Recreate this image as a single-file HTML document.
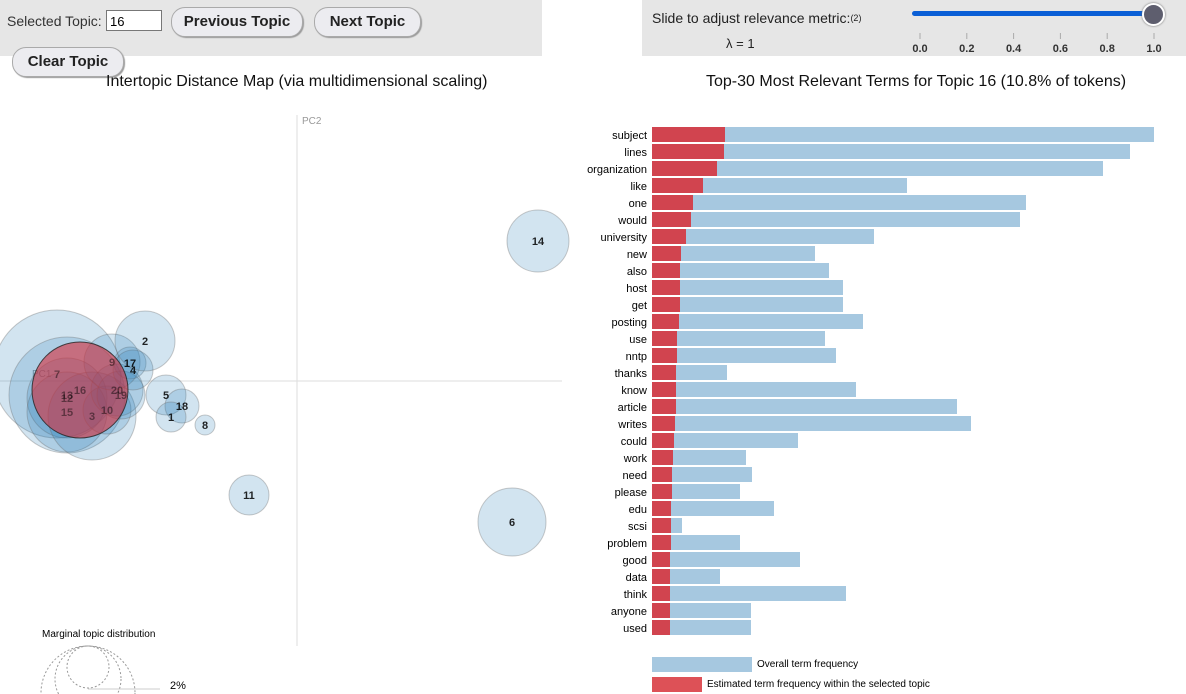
<!DOCTYPE html>
<html><head><meta charset="utf-8">
<style>
html,body{margin:0;width:1186px;height:694px;overflow:hidden}
body{background:#fff;font-family:"Liberation Sans",Arial,sans-serif;position:relative}
svg{overflow:hidden}
.panel{position:absolute;background:#e6e6e6}
.btn{position:absolute;background:#ececf0;border:1px solid #aaa;border-radius:14px;box-shadow:1px 1px 1px #999;font-weight:bold;font-size:15px;text-align:center;line-height:28px;height:28px;color:#222}
.t{position:absolute;white-space:nowrap}
</style></head><body>
<div class="panel" style="left:0;top:0;width:542px;height:56px"></div>
<div class="t" style="left:7px;top:13px;font-size:14px;color:#333">Selected Topic:</div>
<div style="position:absolute;left:106px;top:10px;width:56px;height:21px;background:#fff;border:1px solid #777;font-size:13px;line-height:21px;padding-left:3px;box-sizing:border-box">16</div>
<div class="btn" style="left:171px;top:7px;width:130px">Previous Topic</div>
<div class="btn" style="left:314px;top:7px;width:105px">Next Topic</div>
<div class="btn" style="left:12px;top:47px;width:110px">Clear Topic</div>
<div class="t" style="left:106px;top:73px;font-size:16px;color:#111">Intertopic Distance Map (via multidimensional scaling)</div>

<div class="panel" style="left:642px;top:0;width:544px;height:56px"></div>
<div class="t" style="left:652px;top:10px;font-size:14px;line-height:16px;color:#222">Slide to adjust relevance metric:<span style="font-size:9px;vertical-align:top">(2)</span></div>
<div class="t" style="left:726px;top:36px;font-size:13px;color:#222">λ = 1</div>
<div style="position:absolute;left:912px;top:11px;width:242px;height:5px;background:#0a5fd6;border-radius:3px"></div>
<div style="position:absolute;left:1142px;top:3px;width:19px;height:19px;border-radius:50%;background:#5e5e6e;border:2px solid #fff;box-shadow:0 0 2px #666"></div>
<svg style="position:absolute;left:0;top:0" width="1186" height="694" id="sax"></svg>
<div class="t" style="left:706px;top:73px;font-size:16px;color:#111">Top-30 Most Relevant Terms for Topic 16 (10.8% of tokens)</div>

<svg id="map" style="position:absolute;left:0;top:0" width="580" height="694"></svg>
<svg id="bars" style="position:absolute;left:0;top:0" width="1186" height="694"></svg>

<script>
const NS="http://www.w3.org/2000/svg";
function mk(p,tag,a,txt){const e=document.createElementNS(NS,tag);for(const k in a)e.setAttribute(k,a[k]);if(txt!==undefined)e.textContent=txt;p.appendChild(e);return e;}

const sliderTicks=["0.0","0.2","0.4","0.6","0.8","1.0"];
const sax=document.getElementById('sax');
sliderTicks.forEach((s,i)=>{const x=920+i*46.8;
 const l=mk(sax,'line',{x1:x,x2:x,y1:33,y2:39,stroke:'#aaa','stroke-width':1});
 
 
 const t=mk(sax,'text',{x:x,y:52,'text-anchor':'middle','font-size':11,'font-weight':'bold',fill:'#333'},s);
 
 
});

const topicIds=[7,13,12,15,3,10,20,19,9,17,4,2,5,18,1,8,11,14,6,16];
const topicPC1=[-0.24,-0.23,-0.23,-0.23,-0.205,-0.19,-0.18,-0.176,-0.185,-0.167,-0.164,-0.152,-0.131,-0.115,-0.126,-0.092,-0.048,0.241,0.215,-0.217];
const topicPC2=[0.007,-0.014,-0.017,-0.031,-0.035,-0.029,-0.009,-0.014,0.019,0.018,0.011,0.04,-0.014,-0.025,-0.036,-0.044,-0.114,0.14,-0.141,-0.009];
const topicSize=[64,58,40,40,44,24,26,24,28,16,20,30,20,17,15,10,20,31,34,48];
const mapX=v=>297+v*1000, mapY=v=>381-v*1000;
const map=document.getElementById('map');
let ax=mk(map,'line',{x1:297,x2:297,y1:115,y2:646,stroke:'#ddd'});
ax=mk(map,'line',{x1:0,x2:562,y1:381,y2:381,stroke:'#ddd'});
let at=mk(map,'text',{x:302,y:124,'font-size':10,fill:'#999'},'PC2');
at=mk(map,'text',{x:32,y:377,'font-size':10,fill:'#999'},'PC1');
const sel=16;
topicIds.forEach((id,i)=>{
 const s=id===sel;
 const c=mk(map,'circle',{cx:mapX(topicPC1[i]),cy:mapY(topicPC2[i]),r:topicSize[i],fill:s?'#d62f3c':'#1f77b4','fill-opacity':s?0.6:0.2,stroke:s?'#222':'#666','stroke-opacity':s?0.8:0.35,'stroke-width':1});
 
 
});
topicIds.forEach((id,i)=>{
 const t=mk(map,'text',{x:mapX(topicPC1[i]),y:mapY(topicPC2[i])+4,'text-anchor':'middle','font-size':11,'font-weight':'bold',fill:'#000','fill-opacity':(topicPC1[i]<-0.17&&id!==2)?0.45:0.85},id);
 
 
});
let lt=mk(map,'text',{x:42,y:637,'font-size':10,fill:'#000'},'Marginal topic distribution');
[[667,21],[679,33],[693,47]].forEach(([cy,r])=>{const c=mk(map,'circle',{cx:88,cy:cy,r:r,fill:'none',stroke:'#999','stroke-dasharray':'2,2'});});
let ll=mk(map,'line',{x1:88,x2:160,y1:689,y2:689,stroke:'#ccc'});
lt=mk(map,'text',{x:170,y:689,'font-size':11,fill:'#000'},'2%');

const terms=["subject","lines","organization","like","one","would","university","new","also","host","get","posting","use","nntp","thanks","know","article","writes","could","work","need","please","edu","scsi","problem","good","data","think","anyone","used"];
const overallFreq=[502,478,451,255,374,368,222,163,177,191,191,211,173,184,75,204,305,319,146,94,100,88,122,30,88,148,68,194,99,99];
const topicFreq=[73,72,65,51,41,39,34,29,28,28,28,27,25,25,24,24,24,23,22,21,20,20,19,19,19,18,18,18,18,18];
const bars=document.getElementById('bars');
const bx=v=>652+v, rowY=i=>127+i*17;
terms.forEach((t,i)=>{
 const y=rowY(i);
 const b=mk(bars,'rect',{x:bx(0),y:y,width:bx(overallFreq[i])-bx(0),height:15,fill:'#a6c8e0'});
 
 
 const r=mk(bars,'rect',{x:bx(0),y:y,width:bx(topicFreq[i])-bx(0),height:15,fill:'#d1444f'});
 
 
 const l=mk(bars,'text',{x:647,y:y+12,'text-anchor':'end','font-size':11,fill:'#000'},t);
 
 
});
let lg=mk(bars,'rect',{x:652,y:657,width:100,height:15,fill:'#a6c8e0'});
lg=mk(bars,'text',{x:757,y:667,'font-size':10,fill:'#000'},'Overall term frequency');
lg=mk(bars,'rect',{x:652,y:677,width:50,height:15,fill:'#dd5157'});
lg=mk(bars,'text',{x:707,y:687,'font-size':10,fill:'#000'},'Estimated term frequency within the selected topic');
</script>
</body></html>
